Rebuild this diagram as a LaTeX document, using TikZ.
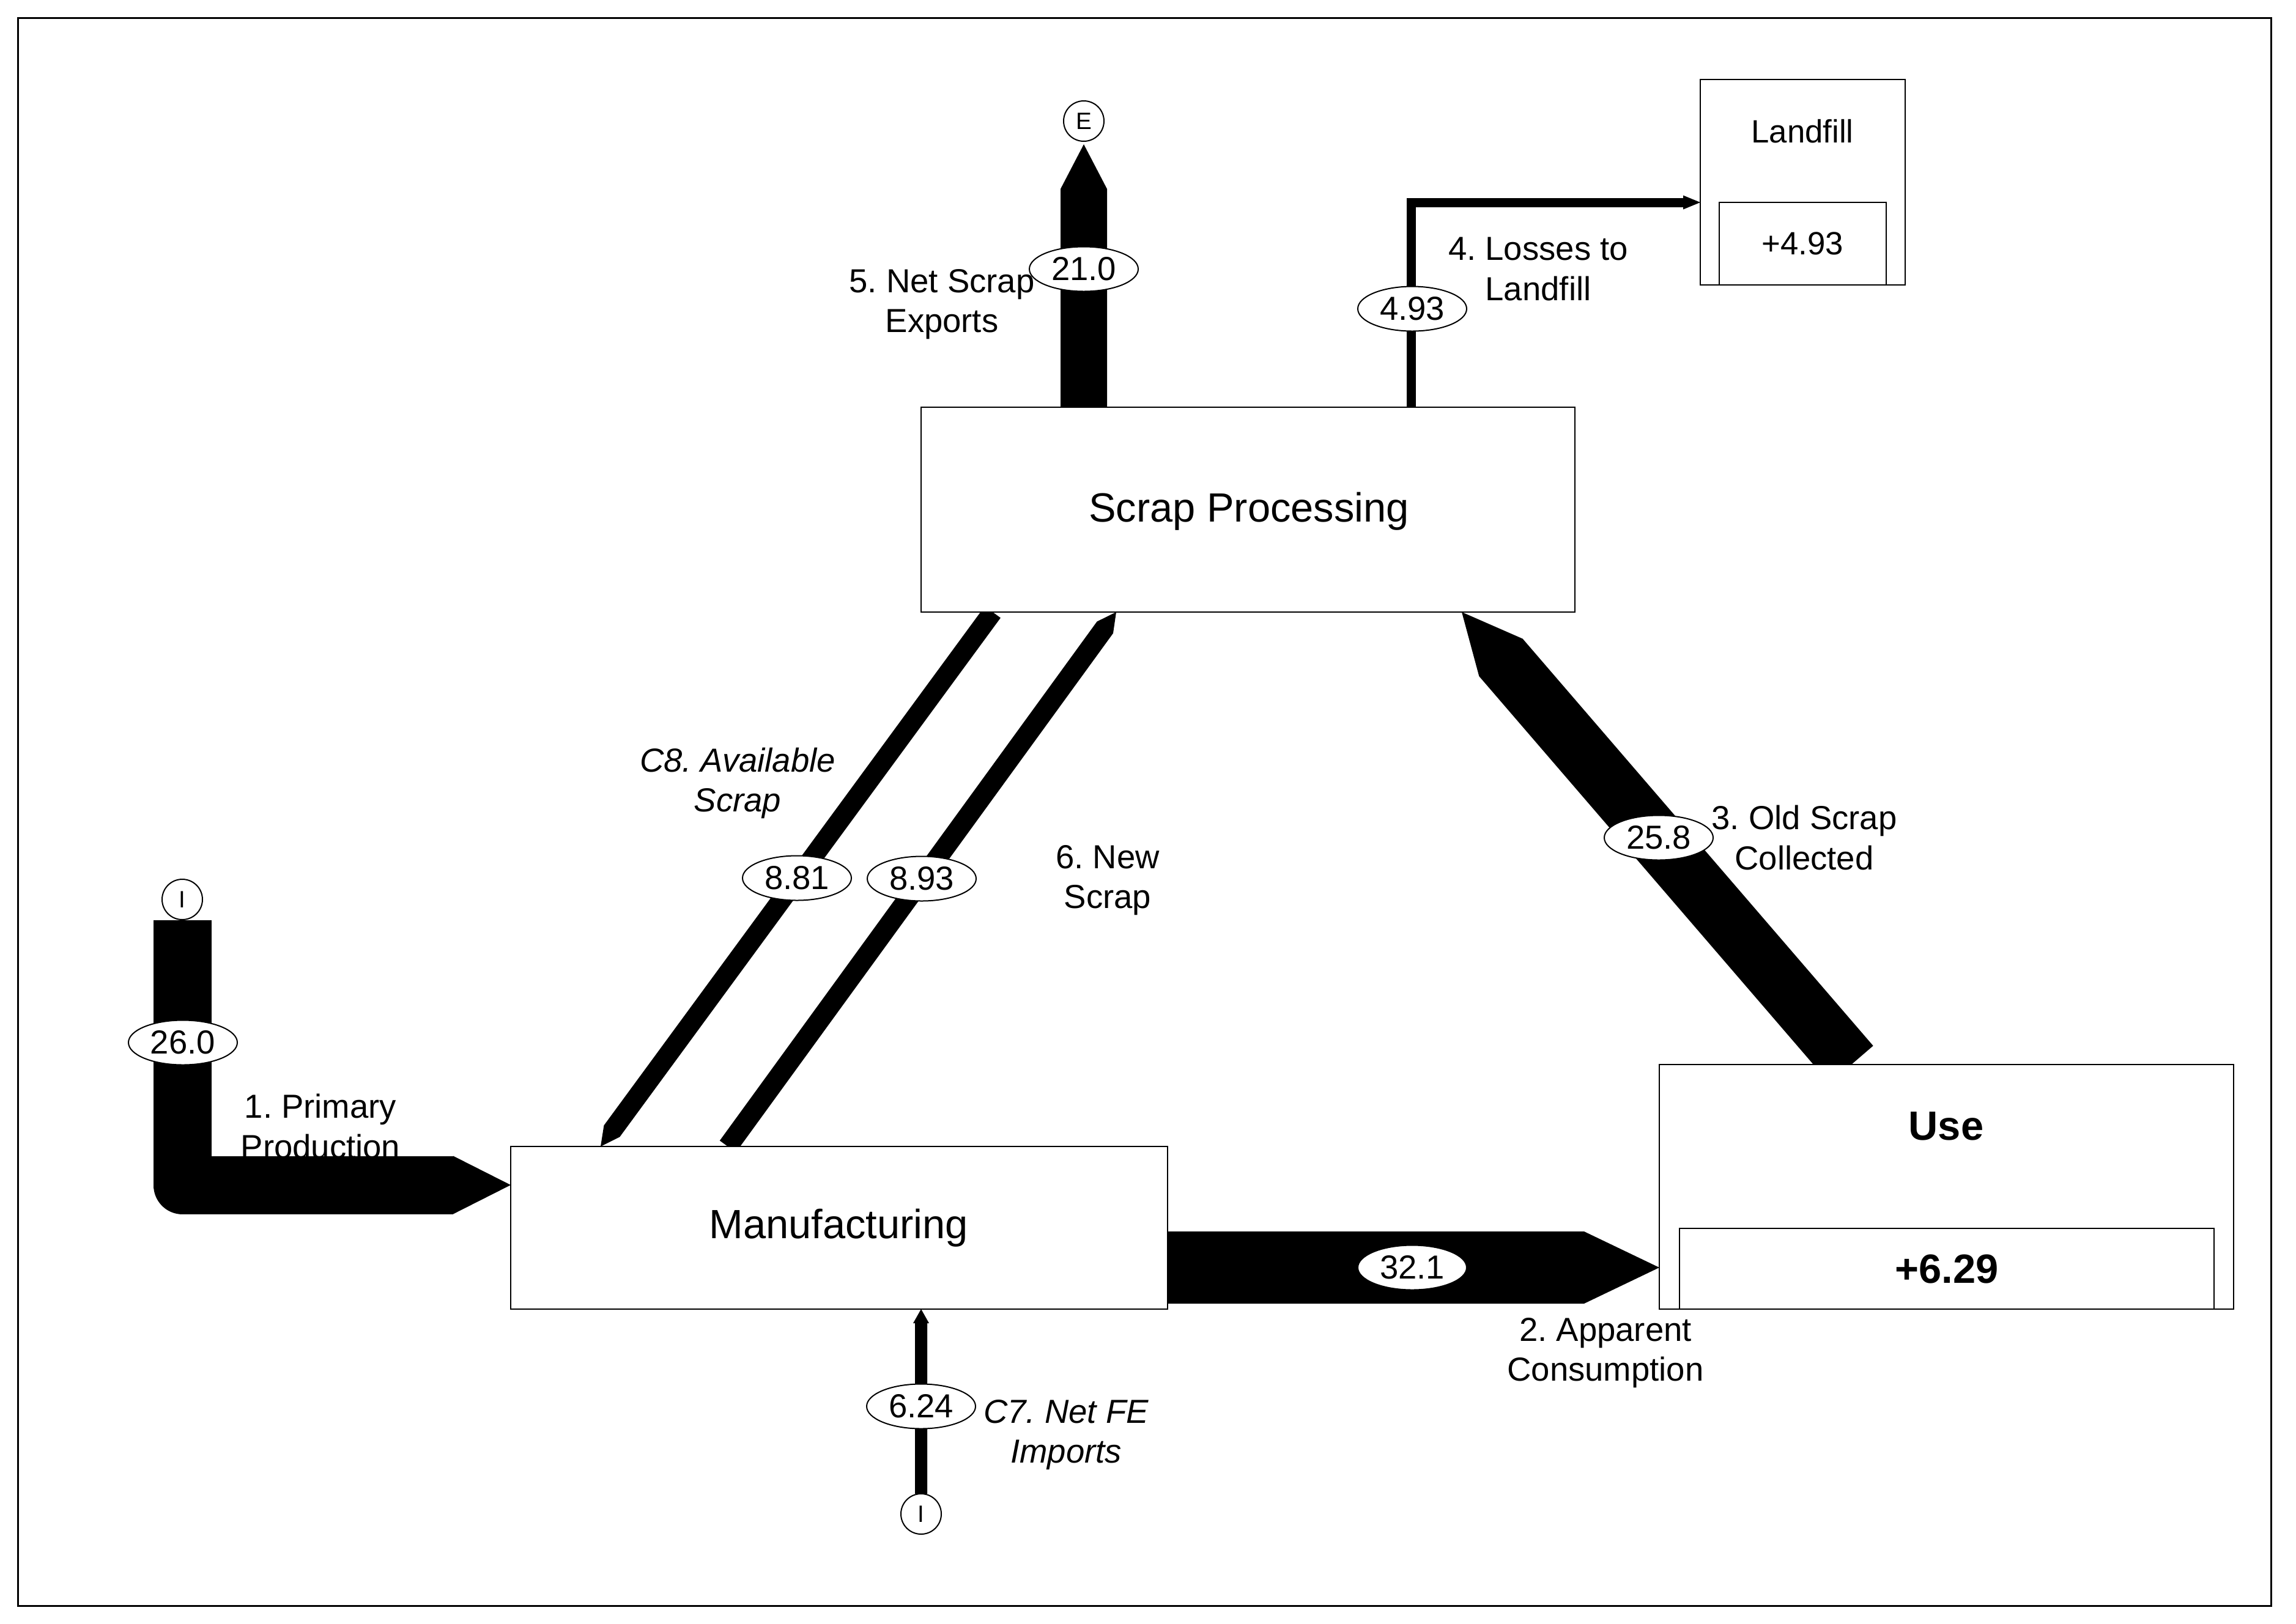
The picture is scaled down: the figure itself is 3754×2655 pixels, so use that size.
\documentclass[tikz,border=0pt]{standalone}
\usepackage{fontspec}
\setmainfont{Liberation Sans}
\frenchspacing
\usetikzlibrary{calc,shapes.geometric,backgrounds}
% #1 start, #2 tip, #3 half shaft width, #4 half head width, #5 head length
\newcommand\flowarrow[5]{%
  \coordinate (fB) at ($(#2)!#5!(#1)$);
  \fill ($(#1)!#3!90:(#2)$) -- ($(fB)!#3!90:(#2)$) -- ($(fB)!#4!90:(#2)$) -- (#2)
     -- ($(fB)!#4!-90:(#2)$) -- ($(fB)!#3!-90:(#2)$) -- ($(#1)!#3!-90:(#2)$) -- cycle;}
\begin{document}
\begin{tikzpicture}[x=0.1mm,y=-0.1mm,
  box/.style={draw, line width=0.25mm, fill=white, inner sep=0pt},
  val/.style={ellipse, draw, line width=0.2mm, fill=white, minimum width=17.8mm,
    minimum height=7.3mm, inner sep=0pt, font=\fontsize{15.5}{18}\selectfont},
  lbl/.style={align=center, inner sep=0pt, font=\fontsize{15.5}{18.5}\selectfont},
  ilbl/.style={align=center, inner sep=0pt, font=\fontsize{15.5}{18.5}\selectfont\itshape},
  term/.style={circle, draw, line width=0.2mm, fill=white, minimum size=6.6mm,
    inner sep=0pt, font=\fontsize{11}{12}\selectfont},
  big/.style={inner sep=0pt, font=\fontsize{19}{22}\selectfont}]
\useasboundingbox (0,0) rectangle (3754,2655);
\draw[line width=0.3mm] (29,29) rectangle (3713,2626);

% boxes
\node[box, minimum width=106.9mm, minimum height=33.5mm] (sp) at (2040.5,833.5) {};
\node[big] (sptxt) at (2042,836) {Scrap Processing};
\node[box, minimum width=107.4mm, minimum height=26.6mm] (mf) at (1372,2008) {};
\node[big] (mftxt) at (1371,2008) {Manufacturing};
\node[box, minimum width=93.9mm, minimum height=40mm] (use) at (3182.5,1941) {};
\node[big, font=\fontsize{19}{22}\selectfont\bfseries] (usetxt) at (3182,1842) {Use};
\node[box, minimum width=87.4mm, minimum height=13.2mm,
  font=\fontsize{19}{22}\selectfont\bfseries] (usev) at (3183,2075) {+6.29};
\node[box, minimum width=33.5mm, minimum height=33.6mm] (lf) at (2947.5,298) {};
\node[inner sep=0pt, font=\fontsize{15}{18}\selectfont] (lftxt) at (2947,215) {Landfill};
\node[box, minimum width=27.3mm, minimum height=13.5mm,
  font=\fontsize{15}{18}\selectfont] (lfv) at (2947.5,398.5) {+4.93};

% terminals
\node[term] (e) at (1772,198) {E};
\node[term] (it) at (298,1471) {I};
\node[term] (ib) at (1506,2476) {I};

% flow coordinates
\coordinate (a5s) at (1772,666);
\coordinate (a5t) at (1772,236);
\coordinate (a4s) at (2307,666);
\coordinate (a4b) at (2752,331);
\coordinate (a4t) at (2780,331);
\coordinate (a3s) at (3027,1741);
\coordinate (a3t) at (2390,1001);
\coordinate (a8s) at (1623,1001);
\coordinate (a8t) at (982,1875);
\coordinate (a6s) at (1190,1875);
\coordinate (a6t) at (1825,1001);
\coordinate (a2s) at (1909,2073);
\coordinate (a2t) at (2713,2073);
\coordinate (a1b) at (741,1938);
\coordinate (a1t) at (835,1938);
\coordinate (c7s) at (1506,2443);
\coordinate (c7t) at (1506,2141);

\begin{pgfonlayer}{background}
  \fill[white] (0,0) rectangle (3754,2655);
  \flowarrow{a5s}{a5t}{3.8mm}{3.8mm}{7.3mm}
  \draw[line width=1.5mm] (a4s) |- (a4b);
  \fill ($(a4b)+(0,11.5)$) -- (a4t) -- ($(a4b)+(0,-11.5)$) -- cycle;
  \flowarrow{a3s}{a3t}{4.7mm}{4.7mm}{9.8mm}
  \flowarrow{a8s}{a8t}{1.6mm}{1.6mm}{3.1mm}
  \flowarrow{a6s}{a6t}{1.63mm}{1.63mm}{3.1mm}
  \flowarrow{a2s}{a2t}{5.9mm}{5.9mm}{12.3mm}
  \draw[line width=9.5mm, line join=round] (it.south) |- (a1b);
  \fill ($(a1b)+(0,47.5)$) -- (a1t) -- ($(a1b)+(0,-47.5)$) -- cycle;
  \flowarrow{c7s}{c7t}{1.0mm}{1.3mm}{2.3mm}
\end{pgfonlayer}

% values
\node[val] (v5) at (1772,440) {21.0};
\node[val] (v4) at (2309,505) {4.93};
\node[val] (v3) at (2712,1370) {25.8};
\node[val] (v1) at (299,1705) {26.0};
\node[val] (v8) at (1303,1436) {8.81};
\node[val] (v6) at (1507,1437) {8.93};
\node[val] (v2) at (2309,2073) {32.1};
\node[val] (v7) at (1506,2300) {6.24};

% labels
\node[lbl] (l5) at (1540,498) {5. Net Scrap\\Exports};
\node[lbl] (l4) at (2515,440) {4. Losses to\\Landfill};
\node[lbl] (l3) at (2950,1370) {3. Old Scrap\\Collected};
\node[ilbl] (l8) at (1206,1281) {C8. Available\\Scrap};
\node[lbl] (l6) at (1811,1440) {6. New\\Scrap};
\node[lbl] (l1) at (524,1842) {1. Primary\\Production};
\node[lbl] (l2) at (2625,2213) {2. Apparent\\Consumption};
\node[ilbl] (l7) at (1743,2347) {C7. Net FE\\Imports};
\end{tikzpicture}
\end{document}
